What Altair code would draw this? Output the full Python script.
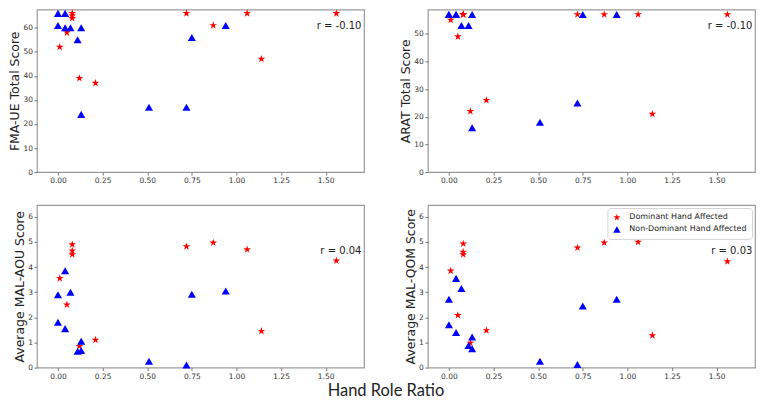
import altair as alt
import pandas as pd

# Hand role ratio per participant
x_dom = [0.01, 0.05, 0.08, 0.08, 0.08, 0.12, 0.21, 0.72, 0.87, 1.06, 1.14, 1.56]
x_non = [0.00, 0.00, 0.04, 0.04, 0.07, 0.11, 0.13, 0.13, 0.51, 0.72, 0.75, 0.94]

fma_dom = [52, 58, 64, 65, 66, 39, 37, 66, 61, 66, 47, 66]
fma_non = [66, 61, 66, 60, 60, 55, 60, 24, 27, 27, 56, 61]
arat_dom = [55, 49, 57, 57, 57, 22, 26, 57, 57, 57, 21, 57]
arat_non = [57, 57, 57, 57, 53, 53, 57, 16, 18, 25, 57, 57]
aou_dom = [3.55, 2.5, 4.9, 4.65, 4.5, 0.85, 1.1, 4.82, 4.97, 4.7, 1.45, 4.25]
aou_non = [2.9, 1.8, 3.85, 1.55, 3.0, 0.65, 1.05, 0.68, 0.25, 0.1, 2.92, 3.05]
qom_dom = [3.85, 2.08, 4.93, 4.6, 4.5, 0.98, 1.48, 4.77, 4.97, 5.0, 1.28, 4.22]
qom_non = [2.72, 1.7, 3.55, 1.4, 3.15, 0.88, 1.22, 0.75, 0.25, 0.12, 2.45, 2.72]

groups = ["Dominant Hand Affected", "Non-Dominant Hand Affected"]
titles = ["FMA-UE Total Score", "ARAT Total Score", "Average MAL-AOU Score", "Average MAL-QOM Score"]
r_labels = ["r = -0.10", "r = -0.10", "r = 0.04", "r = 0.03"]
r_y = [60.7, 52.7, 4.63, 4.63]
y_domains = [[0, 67.6], [0, 58.8], [0, 6.47], [0, 6.47]]
y_ticks = [[0, 10, 20, 30, 40, 50, 60], [0, 10, 20, 30, 40, 50], [0, 1, 2, 3, 4, 5, 6], [0, 1, 2, 3, 4, 5, 6]]
x_ticks = [0.0, 0.25, 0.5, 0.75, 1.0, 1.25, 1.5]

STAR = ("M0,-1L0.225,-0.309L0.951,-0.309L0.363,0.118L0.588,0.809L0,0.382"
        "L-0.588,0.809L-0.363,0.118L-0.951,-0.309L-0.225,-0.309Z")

series = [(fma_dom, fma_non), (arat_dom, arat_non), (aou_dom, aou_non), (qom_dom, qom_non)]

W, H = 328, 163


def panel(i):
    ydom, ynon = series[i]
    df = pd.DataFrame({
        "x": x_dom + x_non,
        "y": ydom + ynon,
        "group": [groups[0]] * len(x_dom) + [groups[1]] * len(x_non),
    })
    legend = None
    if i == 3:
        legend = alt.Legend(
            title=None, orient="top-right", offset=3,
            strokeColor="#d4d4d4", fillColor="white", padding=5, cornerRadius=3,
            labelFont="DejaVu Sans", labelFontSize=8, labelColor="#222",
            rowPadding=3, symbolSize=55, labelOffset=8,
        )
    x_enc = alt.X("x:Q", title=None,
                  scale=alt.Scale(domain=[-0.118, 1.715], nice=False, zero=False),
                  axis=alt.Axis(values=x_ticks, format=".2f", labelOverlap=False))
    y_enc = alt.Y("y:Q", title=titles[i],
                  scale=alt.Scale(domain=y_domains[i], nice=False),
                  axis=alt.Axis(values=y_ticks[i], format="d", labelOverlap=False))
    pts = alt.Chart(df).mark_point(filled=True, opacity=1, size=66).encode(
        x=x_enc,
        y=y_enc,
        color=alt.Color("group:N", scale=alt.Scale(domain=groups, range=["#ff0000", "#0000ff"]), legend=legend),
        shape=alt.Shape("group:N", scale=alt.Scale(domain=groups, range=[STAR, "triangle-up"]), legend=legend),
    )
    txt = alt.Chart(pd.DataFrame({"x": [1.70], "y": [r_y[i]], "t": [r_labels[i]]})).mark_text(
        align="right", baseline="middle", font="DejaVu Sans", fontSize=10, color="#222"
    ).encode(x=x_enc, y=y_enc, text="t:N")
    return alt.layer(pts, txt).properties(width=W, height=H)


chart = alt.concat(
    *[panel(i) for i in range(4)],
    columns=2,
    spacing={"row": 33, "column": 64},
    bounds="flush",
    title=alt.TitleParams("Hand Role Ratio", orient="bottom", anchor="middle",
                          font="Lato", fontSize=16.5, fontWeight="normal", color="#222",
                          offset=3, dx=4),
).resolve_legend(color="independent", shape="independent").properties(
    padding={"left": 0, "top": 0, "right": 0, "bottom": 0},
).configure_view(
    stroke="#9a9a9a", strokeWidth=1.2
).configure_axis(
    domain=False, grid=False,
    labelFont="DejaVu Sans", labelFontSize=7.5, labelColor="#333",
    tickColor="#777", tickSize=3, labelPadding=1.5,
    titleFont="DejaVu Sans", titleFontSize=12.5, titleFontWeight="normal", titleColor="#222",
    titlePadding=1,
)

chart.save("out.html", embed_options={"renderer": "svg", "actions": False})
